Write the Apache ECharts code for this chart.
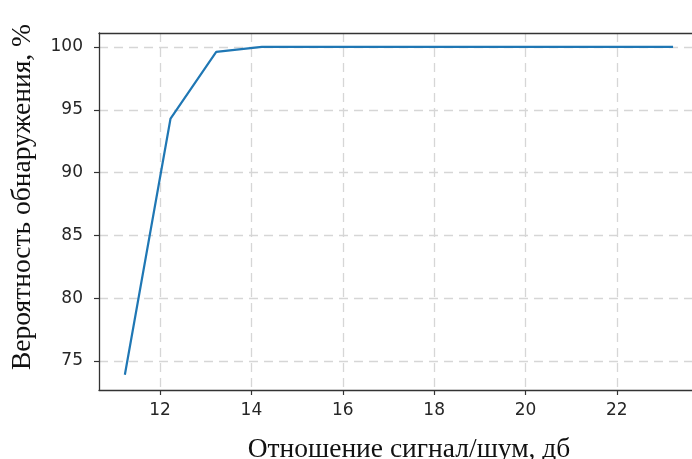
<!DOCTYPE html>
<html>
<head>
<meta charset="utf-8">
<script src="https://cdn.jsdelivr.net/npm/echarts@6/dist/echarts.min.js"></script>
<style>html,body{margin:0;padding:0;background:#fff;overflow:hidden;}#c{width:692px;height:459px;}</style>
</head>
<body>
<div id="c"></div>
<script>
var snr = [11.23, 12.23, 13.23, 14.23, 15.23, 16.23, 17.23, 18.23, 19.23, 20.23, 21.23, 22.23, 23.23];
var prob = [73.9, 94.3, 99.6, 100, 100, 100, 100, 100, 100, 100, 100, 100, 100];
var xTicks = [12, 14, 16, 18, 20, 22];
var yTicks = [75, 80, 85, 90, 95, 100];
var xName = 'Отношение сигнал/шум, дб';
var yName = 'Вероятность обнаружения, %';

var chart = echarts.init(document.getElementById('c'), null, {renderer: 'canvas'});
var data = snr.map(function (x, i) { return [x, prob[i]]; });
var spine = {show: true, lineStyle: {color: '#333', width: 1.3}};
chart.setOption({
  animation: false,
  grid: {left: 99, top: 33, width: 601, height: 357, containLabel: false, outerBoundsMode: 'none', show: false},
  xAxis: [{
    type: 'value', min: 10.664, max: 23.82,
    axisLine: spine,
    axisTick: {show: true, length: 5, lineStyle: {color: '#333', width: 1.2}, customValues: xTicks},
    axisLabel: {customValues: xTicks, margin: 12, fontFamily: 'DejaVu Sans', fontSize: 17, color: '#262626'},
    splitLine: {show: true, lineStyle: {type: [9, 6], color: '#d6d6d6', width: 1.3}},
    name: xName, nameLocation: 'middle', nameGap: 46,
    nameTextStyle: {fontFamily: 'Liberation Serif', fontSize: 27.5, color: '#111', padding: [0, 0, 0, 19]}
  }, {
    type: 'value', position: 'top', min: 10.664, max: 23.82,
    axisLine: spine, axisTick: {show: false}, axisLabel: {show: false}, splitLine: {show: false}
  }],
  yAxis: {
    type: 'value', min: 72.69, max: 101.11,
    axisLine: spine,
    axisTick: {show: true, length: 5, lineStyle: {color: '#333', width: 1.2}, customValues: yTicks},
    axisLabel: {customValues: yTicks, margin: 16, fontFamily: 'DejaVu Sans', fontSize: 17, color: '#262626'},
    splitLine: {show: true, lineStyle: {type: [9, 6], color: '#d6d6d6', width: 1.3}},
    name: yName, nameLocation: 'middle', nameGap: 62, nameRotate: 90,
    nameTextStyle: {fontFamily: 'Liberation Serif', fontSize: 27.5, color: '#111', padding: [0, 0, 0, 29]}
  },
  series: [{
    type: 'line', data: data, symbol: 'none', xAxisIndex: 0,
    lineStyle: {color: '#1f77b4', width: 2.2}
  }]
});
</script>
</body>
</html>
